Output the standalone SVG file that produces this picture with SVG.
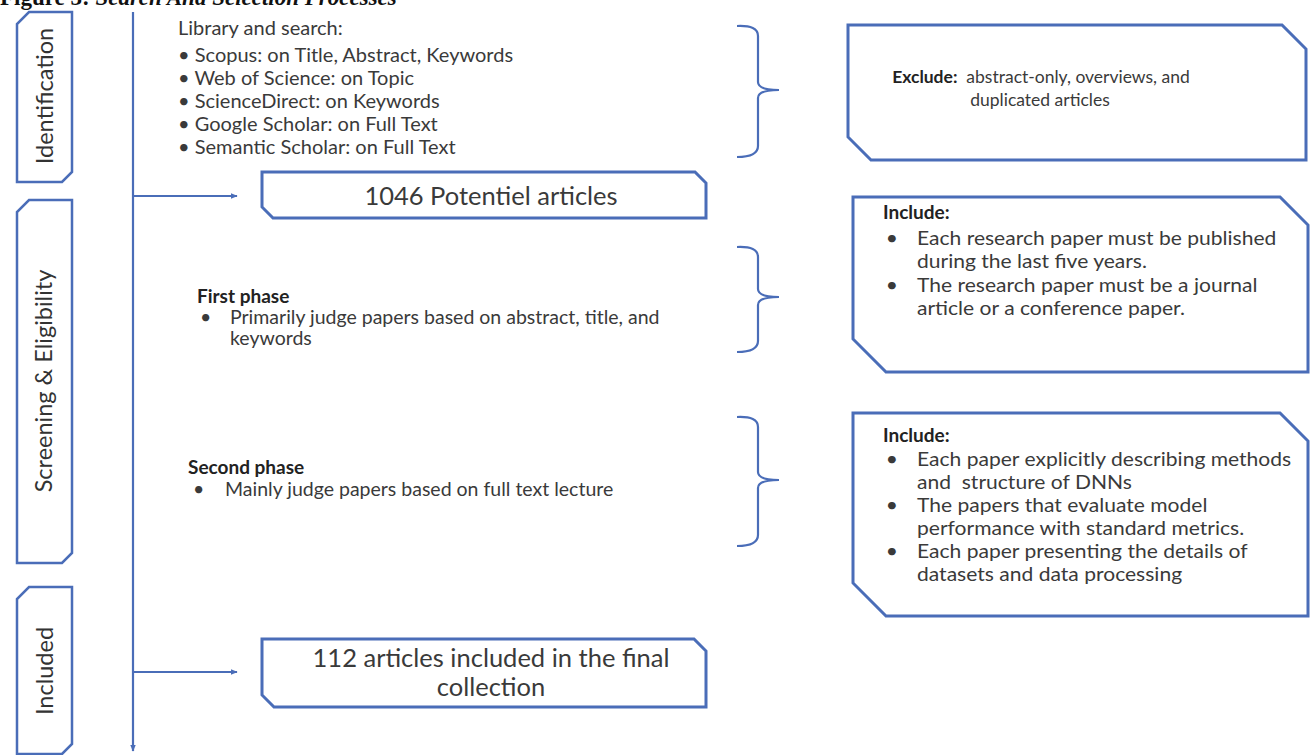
<svg xmlns="http://www.w3.org/2000/svg" width="1310" height="755" viewBox="0 0 1310 755">
<defs>
<style>
.ln{fill:none;stroke:#4a6db8;stroke-width:2.2}
.bx{fill:#fff;stroke:#4a6db8;stroke-width:3}
.lb{fill:#fff;stroke:#4a6db8;stroke-width:2.5}
.t{font-family:Lato,"Open Sans",sans-serif;fill:#3a3a3a}
.b{font-weight:bold;fill:#222}
.lab{font-family:Lato,"Open Sans",sans-serif;font-size:23.5px;fill:#333;text-anchor:middle}
</style>
<marker id="ah" viewBox="0 0 10 10" refX="9" refY="5" markerWidth="7" markerHeight="7" markerUnits="userSpaceOnUse" orient="auto"><path d="M0,1 L10,5 L0,9 z" fill="#4a6db8"/></marker>
</defs>
<rect width="1310" height="755" fill="#fff"/>
<text x="0" y="5" font-family="Liberation Serif,serif" font-weight="bold" font-size="23" fill="#111">Figure 3: <tspan font-style="italic">Search And Selection Processes</tspan></text>

<g id="label-identification">
<path class="lb" d="M29,12 H72 V172 L62,182 H17 V24 Z"/>
<text class="lab" transform="translate(53,96) rotate(-90)">Identification</text>
</g>
<g id="label-screening">
<path class="lb" d="M29,200 H72 V553 L62,563 H17 V212 Z"/>
<text class="lab" transform="translate(52,381) rotate(-90)">Screening &amp; Eligibility</text>
</g>
<g id="label-included">
<path class="lb" d="M29,587 H72 V744 L62,754 H17 V599 Z"/>
<text class="lab" transform="translate(53,671) rotate(-90)">Included</text>
</g>

<g id="connectors">
<path class="ln" d="M133,12 V751" marker-end="url(#ah)"/>
<path class="ln" d="M133,196 H237" marker-end="url(#ah)"/>
<path class="ln" d="M133,672 H237" marker-end="url(#ah)"/>
<path class="ln" d="M737,26 Q758,25 758,36 V82 Q758,90 779,90 Q758,90 758,98 V146 Q758,157 737,157"/>
<path class="ln" d="M737,247 Q758,246 758,257 V289 Q758,297 779,297 Q758,297 758,305 V341 Q758,352 737,352"/>
<path class="ln" d="M737,417 Q758,416 758,427 V472 Q758,480 779,480 Q758,480 758,488 V535 Q758,546 737,546"/>
</g>

<g id="search">
<text class="t" font-size="20">
<tspan x="178" y="35">Library and search:</tspan>
<tspan x="178" y="62">• Scopus: on Title, Abstract, Keywords</tspan>
<tspan x="178" y="85">• Web of Science: on Topic</tspan>
<tspan x="178" y="108">• ScienceDirect: on Keywords</tspan>
<tspan x="178" y="131">• Google Scholar: on Full Text</tspan>
<tspan x="178" y="154">• Semantic Scholar: on Full Text</tspan>
</text>
</g>

<g id="potential">
<path class="bx" d="M262,172 H695 L706,183 V218 H273 L262,207 Z"/>
<text class="t" font-size="25.5" text-anchor="middle" x="491" y="205" fill="#333">1046 Potentiel articles</text>
</g>

<g id="first-phase">
<text class="t b" font-size="19" x="197" y="303">First phase</text>
<text class="t" font-size="19.5"><tspan x="200" y="324">•</tspan><tspan x="230" y="324">Primarily judge papers based on abstract, title, and</tspan><tspan x="230" y="345">keywords</tspan></text>
</g>

<g id="second-phase">
<text class="t b" font-size="19" x="188" y="474">Second phase</text>
<text class="t" font-size="19.5"><tspan x="193" y="496">•</tspan><tspan x="225" y="496">Mainly judge papers based on full text lecture</tspan></text>
</g>

<g id="final">
<path class="bx" d="M262,639 H694 L706,651 V707 H274 L262,695 Z"/>
<text class="t" font-size="25.5" text-anchor="middle" fill="#333"><tspan x="491" y="667">112 articles included in the final</tspan><tspan x="491" y="696">collection</tspan></text>
</g>

<g id="exclude">
<path class="bx" d="M848,25 H1282 L1306,49 V160 H871 L848,137 Z"/>
<text class="t" font-size="17.5" text-anchor="middle"><tspan x="1041" y="83"><tspan class="b">Exclude:</tspan>&#160; abstract-only, overviews, and</tspan><tspan x="1040" y="106">duplicated articles</tspan></text>
</g>

<g id="include-1">
<path class="bx" d="M853,197 H1280 L1308,225 V372 H886 L853,339 Z"/>
<text class="t b" font-size="19" x="883" y="219">Include:</text>
<g transform="matrix(1.08,0,0,1,-73.36,0)">
<text class="t" font-size="19.5"><tspan x="888" y="245">•</tspan><tspan x="917" y="245">Each research paper must be published</tspan></text>
<text class="t" font-size="19.5" x="917" y="268">during the last five years.</text>
<text class="t" font-size="19.5"><tspan x="888" y="292">•</tspan><tspan x="917" y="292">The research paper must be a journal</tspan></text>
<text class="t" font-size="19.5" x="917" y="315">article or a conference paper.</text>
</g>
</g>

<g id="include-2">
<path class="bx" d="M853,413 H1280 L1308,441 V616 H886 L853,583 Z"/>
<text class="t b" font-size="19" x="883" y="442">Include:</text>
<g transform="matrix(1.08,0,0,1,-73.36,0)">
<text class="t" font-size="19.5"><tspan x="888" y="466">•</tspan><tspan x="917" y="466">Each paper explicitly describing methods</tspan></text>
<text class="t" font-size="19.5" x="917" y="489">and&#160; structure of DNNs</text>
<text class="t" font-size="19.5"><tspan x="888" y="512">•</tspan><tspan x="917" y="512">The papers that evaluate model</tspan></text>
<text class="t" font-size="19.5" x="917" y="535">performance with standard metrics.</text>
<text class="t" font-size="19.5"><tspan x="888" y="558">•</tspan><tspan x="917" y="558">Each paper presenting the details of</tspan></text>
<text class="t" font-size="19.5" x="917" y="581">datasets and data processing</text>
</g>
</g>
</svg>
